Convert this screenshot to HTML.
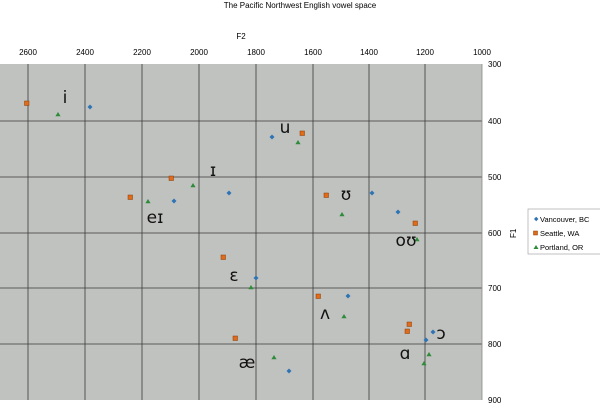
<!DOCTYPE html>
<html><head><style>
body{margin:0;background:#fff;width:600px;height:403px;overflow:hidden;font-family:"Liberation Sans","DejaVu Sans",sans-serif}
</style></head><body>
<svg width="600" height="403" xmlns="http://www.w3.org/2000/svg" font-family="Liberation Sans, DejaVu Sans, sans-serif">
<text x="300" y="8" font-size="8" text-anchor="middle" fill="#000">The Pacific Northwest English vowel space</text>
<text x="241" y="39" font-size="8" text-anchor="middle">F2</text>
<rect x="0" y="64" width="482" height="336" fill="#c0c2bf"/>
<g stroke="#3a3a3a" stroke-width="0.8">
<line x1="28" y1="64" x2="28" y2="400"/><line x1="85" y1="64" x2="85" y2="400"/><line x1="142" y1="64" x2="142" y2="400"/><line x1="199" y1="64" x2="199" y2="400"/><line x1="256" y1="64" x2="256" y2="400"/><line x1="313" y1="64" x2="313" y2="400"/><line x1="369" y1="64" x2="369" y2="400"/><line x1="425" y1="64" x2="425" y2="400"/>
<line x1="0" y1="121" x2="482" y2="121"/><line x1="0" y1="177" x2="482" y2="177"/><line x1="0" y1="233" x2="482" y2="233"/><line x1="0" y1="288" x2="482" y2="288"/><line x1="0" y1="344" x2="482" y2="344"/>
</g>
<line x1="482" y1="64" x2="482" y2="400" stroke="#888" stroke-width="0.8"/>
<g font-size="8" text-anchor="middle">
<text x="28" y="55">2600</text><text x="85" y="55">2400</text><text x="142" y="55">2200</text><text x="199" y="55">2000</text><text x="256" y="55">1800</text><text x="313" y="55">1600</text><text x="369" y="55">1400</text><text x="425" y="55">1200</text><text x="482" y="55">1000</text>
</g>
<g font-size="8">
<text x="488" y="67">300</text><text x="488" y="124">400</text><text x="488" y="180">500</text><text x="488" y="236">600</text><text x="488" y="291">700</text><text x="488" y="347">800</text><text x="488" y="403">900</text>
</g>
<text x="0" y="0" font-size="8" transform="translate(516,238) rotate(-90)">F1</text>
<rect x="528" y="209" width="80" height="45" fill="#fff" stroke="#999" stroke-width="0.6"/>
<g font-size="7.5">
<path d="M534,219l2.2,-2.2l2.2,2.2l-2.2,2.2z" fill="#2e74b5"/><text x="540" y="222">Vancouver, BC</text>
<rect x="533.5" y="231" width="4" height="4" fill="#e06b1a" stroke="#8a3a05" stroke-width="0.5"/><text x="540" y="236">Seattle, WA</text>
<path d="M536,245l2.5,4h-5z" fill="#2e8b3a"/><text x="540" y="250">Portland, OR</text>
</g>
<g fill="#2e74b5">
<path id="d" d="M0,-2.5l2.5,2.5l-2.5,2.5l-2.5,-2.5z" transform="translate(90,107)"/>
<path d="M0,-2.5l2.5,2.5l-2.5,2.5l-2.5,-2.5z" transform="translate(272,137)"/>
<path d="M0,-2.5l2.5,2.5l-2.5,2.5l-2.5,-2.5z" transform="translate(229,193)"/>
<path d="M0,-2.5l2.5,2.5l-2.5,2.5l-2.5,-2.5z" transform="translate(174,201)"/>
<path d="M0,-2.5l2.5,2.5l-2.5,2.5l-2.5,-2.5z" transform="translate(372,193)"/>
<path d="M0,-2.5l2.5,2.5l-2.5,2.5l-2.5,-2.5z" transform="translate(398,212)"/>
<path d="M0,-2.5l2.5,2.5l-2.5,2.5l-2.5,-2.5z" transform="translate(256,278)"/>
<path d="M0,-2.5l2.5,2.5l-2.5,2.5l-2.5,-2.5z" transform="translate(348,296)"/>
<path d="M0,-2.5l2.5,2.5l-2.5,2.5l-2.5,-2.5z" transform="translate(289,371)"/>
<path d="M0,-2.5l2.5,2.5l-2.5,2.5l-2.5,-2.5z" transform="translate(433,332)"/>
<path d="M0,-2.5l2.5,2.5l-2.5,2.5l-2.5,-2.5z" transform="translate(426,340)"/>
</g>
<g fill="#e06b1a" stroke="#8a3a05" stroke-width="0.5">
<rect x="24.5" y="101" width="4.5" height="4.5"/><rect x="300" y="131" width="4.5" height="4.5"/><rect x="169" y="176" width="4.5" height="4.5"/><rect x="128" y="195" width="4.5" height="4.5"/><rect x="324" y="193" width="4.5" height="4.5"/><rect x="413" y="221" width="4.5" height="4.5"/><rect x="221" y="255" width="4.5" height="4.5"/><rect x="316" y="294" width="4.5" height="4.5"/><rect x="233" y="336" width="4.5" height="4.5"/><rect x="407" y="322" width="4.5" height="4.5"/><rect x="405" y="329" width="4.5" height="4.5"/>
</g>
<g fill="#2e8b3a">
<path d="M58,112l2.6,4.2h-5.2z"/><path d="M298,140l2.6,4.2h-5.2z"/><path d="M193,183l2.6,4.2h-5.2z"/><path d="M148,199l2.6,4.2h-5.2z"/><path d="M342,212l2.6,4.2h-5.2z"/><path d="M417,237l2.6,4.2h-5.2z"/><path d="M251,285l2.6,4.2h-5.2z"/><path d="M344,314l2.6,4.2h-5.2z"/><path d="M274,355l2.6,4.2h-5.2z"/><path d="M429,352l2.6,4.2h-5.2z"/><path d="M424,361l2.6,4.2h-5.2z"/>
</g>
<g font-size="17" font-family="DejaVu Sans, sans-serif" text-anchor="middle" fill="#111">
<text x="65" y="103">i</text>
<text x="285" y="133">u</text>
<text x="213" y="176">ɪ</text>
<text x="155" y="223">eɪ</text>
<text x="346" y="200">ʊ</text>
<text x="406" y="246">oʊ</text>
<text x="234" y="281">ɛ</text>
<text x="325" y="319">ʌ</text>
<text x="441" y="339">ɔ</text>
<text x="405" y="359">ɑ</text>
<text x="247" y="368">æ</text>
</g>
</svg>
</body></html>
